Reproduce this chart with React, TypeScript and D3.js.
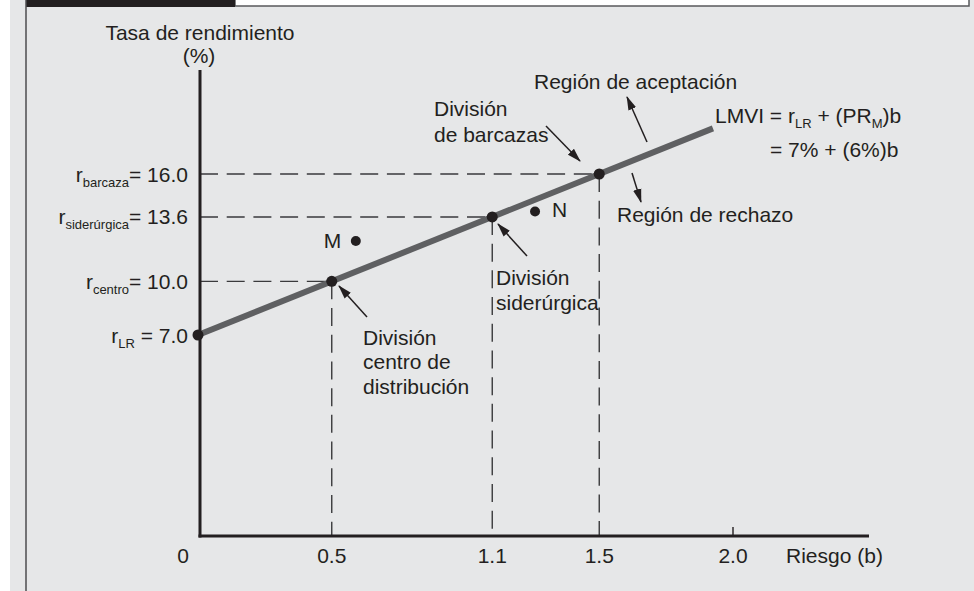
import React from 'react';
import * as d3 from 'd3';

// Divisiones sobre la LMVI
const divisions = ['LR', 'centro', 'siderúrgica', 'barcaza'];
const betas = [0, 0.5, 1.1, 1.5];
const returns = [7.0, 10.0, 13.6, 16.0];
const yTickValues = [' = 7.0', '= 10.0', '= 13.6', '= 16.0'];

// Proyectos fuera de la línea
const projectNames = ['M', 'N'];
const projectBetas = [0.59, 1.26];
const projectReturns = [12.25, 13.9];

const xTicks = [0, 0.5, 1.1, 1.5, 2.0];
const xTickLabels = ['0', '0.5', '1.1', '1.5', '2.0'];

const riskFree = 7;
const marketPremium = 6;
const lineEndBeta = 1.925;

const W = 974;
const H = 591;
const FONT = '"Liberation Sans", Arial, Helvetica, sans-serif';
const INK = '#231f20';

export default function App() {
  const x = d3.scaleLinear().domain([0, 2]).range([198, 733]);
  const y = d3.scaleLinear().domain([7, 16]).range([335, 174]);

  const axisX = 200;
  const axisY = 536;
  const axisTop = 70;
  const axisRight = 869;

  const lmvi = d3.line<number>()
    .x(b => x(b))
    .y(b => y(riskFree + marketPremium * b));

  // annotation arrows: [x1, y1, x2(tip), y2(tip)]
  const arrows = [
    [647, 142, 627, 97],
    [546, 126, 580, 161],
    [632, 173, 641, 202],
    [527, 256, 498, 224],
    [367, 317, 339, 286],
  ];

  const dash = '18,8.7';

  return (
    <svg width={W} height={H} style={{ position: 'absolute', left: 0, top: 0, display: 'block' }}
      fontFamily={FONT} fill={INK}>
      <defs>
        <marker id="ah" viewBox="0 0 14 10" refX="13" refY="5" markerWidth="14" markerHeight="10"
          markerUnits="userSpaceOnUse" orient="auto">
          <path d="M0,0.8 L14,5 L0,9.2 Z" fill={INK} />
        </marker>
      </defs>

      {/* frame */}
      <rect x={0} y={0} width={W} height={H} fill="#fff" />
      <rect x={10} y={0} width={W - 10} height={H} fill="#e6e7e8" />
      <rect x={235} y={-2} width={734} height={8} fill="#fff" stroke="#58595b" strokeWidth={1.5} />
      <rect x={26} y={0} width={209} height={7} fill="#231f20" />
      <line x1={26} y1={0} x2={26} y2={H} stroke="#4d4d4f" strokeWidth={1.5} />

      {/* dashed guides */}
      {betas.map((b, i) => i === 0 ? null : (
        <g key={divisions[i]} stroke="#3a3a3c" strokeWidth={1.4} strokeDasharray={dash} fill="none">
          <line x1={axisX} y1={y(returns[i])} x2={x(b)} y2={y(returns[i])} />
          <line x1={x(b)} y1={y(returns[i])} x2={x(b)} y2={axisY} />
        </g>
      ))}

      {/* axes */}
      <line x1={axisX} y1={axisTop} x2={axisX} y2={axisY + 1.5} stroke={INK} strokeWidth={3} />
      <line x1={axisX - 1.5} y1={axisY} x2={axisRight} y2={axisY} stroke={INK} strokeWidth={3} />
      <line x1={x(2)} y1={axisY - 9} x2={x(2)} y2={axisY} stroke={INK} strokeWidth={1.4} />

      {/* LMVI */}
      <path d={lmvi([0, lineEndBeta]) || ''} stroke="#5f6062" strokeWidth={6} fill="none" />

      {/* points */}
      {betas.map((b, i) => (
        <circle key={'p' + i} cx={x(b)} cy={y(returns[i])} r={5.5} fill={INK} />
      ))}
      {projectBetas.map((b, i) => (
        <circle key={'q' + i} cx={x(b)} cy={y(projectReturns[i])} r={5} fill={INK} />
      ))}

      {/* x tick labels */}
      {xTicks.map((t, i) => (
        <text key={'xt' + i} x={x(t) + (t === 0 ? -15 : 0)} y={563} fontSize={21} textAnchor="middle">
          {xTickLabels[i]}
        </text>
      ))}
      <text x={786} y={563} fontSize={21}>Riesgo (b)</text>

      {/* y tick labels */}
      {returns.map((r, i) => (
        <text key={'yt' + i} x={188} y={y(r) + 7.5} fontSize={21} textAnchor="end" style={{ whiteSpace: 'pre' }}>
          <tspan>r</tspan>
          <tspan fontSize={13} dy={5}>{divisions[i]}</tspan>
          <tspan dy={-5}>{yTickValues[i]}</tspan>
        </text>
      ))}

      {/* y axis title */}
      <text x={200} y={40} fontSize={21} textAnchor="middle">Tasa de rendimiento</text>
      <text x={199} y={63} fontSize={21} textAnchor="middle">(%)</text>

      {/* project labels */}
      <text x={x(projectBetas[0]) - 32} y={y(projectReturns[0]) + 7} fontSize={21}>{projectNames[0]}</text>
      <text x={x(projectBetas[1]) + 17} y={y(projectReturns[1]) + 5} fontSize={21}>{projectNames[1]}</text>

      {/* arrows */}
      {arrows.map((a, i) => (
        <line key={'a' + i} x1={a[0]} y1={a[1]} x2={a[2]} y2={a[3]} stroke={INK} strokeWidth={1.5}
          markerEnd="url(#ah)" />
      ))}

      {/* annotations */}
      <g fontSize={21}>
        <text x={534} y={89}>Región de aceptación</text>
        <text x={434} y={116}>División</text>
        <text x={434} y={142}>de barcazas</text>
        <text x={617} y={222}>Región de rechazo</text>
        <text x={496} y={285}>División</text>
        <text x={496} y={310}>siderúrgica</text>
        <text x={363} y={345}>División</text>
        <text x={363} y={369}>centro de</text>
        <text x={363} y={394}>distribución</text>
        <text x={715} y={123}>
          <tspan>LMVI = r</tspan>
          <tspan fontSize={13} dy={5}>LR</tspan>
          <tspan dy={-5}> + (PR</tspan>
          <tspan fontSize={13} dy={5}>M</tspan>
          <tspan dy={-5}>)b</tspan>
        </text>
        <text x={770} y={157}>= 7% + (6%)b</text>
      </g>
    </svg>
  );
}
